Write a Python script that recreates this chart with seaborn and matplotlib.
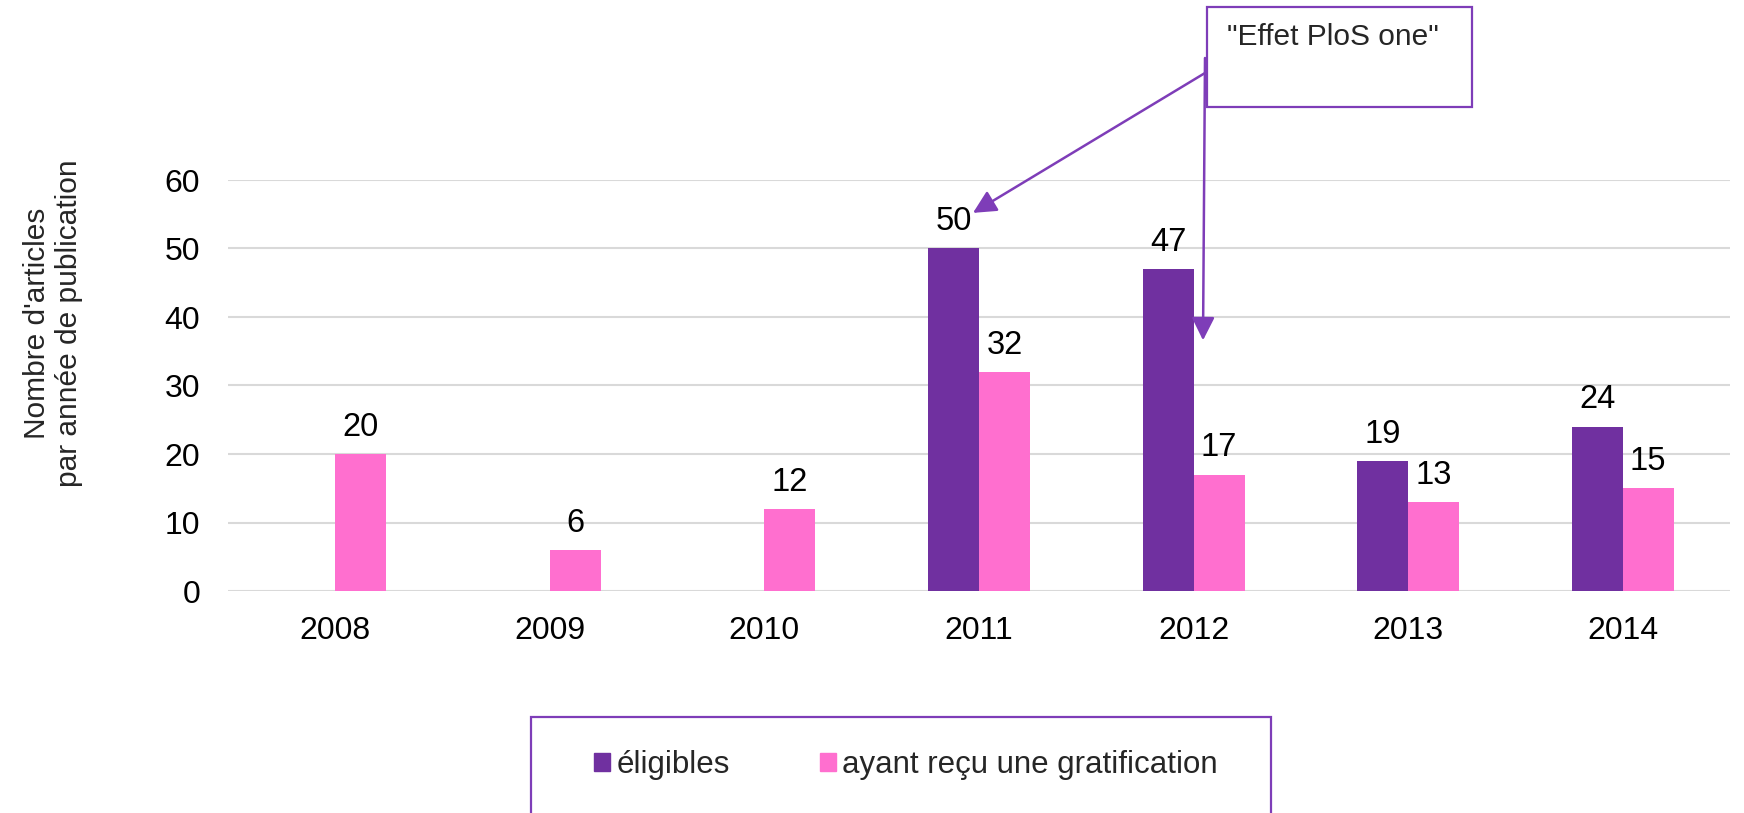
import matplotlib
matplotlib.use("Agg")
import matplotlib.pyplot as plt
from matplotlib.patches import Rectangle
import pandas as pd
import seaborn as sns

years = ["2008", "2009", "2010", "2011", "2012", "2013", "2014"]
eligibles = [0, 0, 0, 50, 47, 19, 24]
gratifies = [20, 6, 12, 32, 17, 13, 15]
series = ["éligibles", "ayant reçu une gratification"]

PURPLE = "#7030A0"
PINK = "#FF6FCF"
BOX = "#7E3DB8"

df = pd.DataFrame({
    "annee": years * 2,
    "n": eligibles + gratifies,
    "serie": [series[0]] * len(years) + [series[1]] * len(years),
})

sns.set_style("white")
plt.rcParams["font.family"] = ["Liberation Sans", "DejaVu Sans"]

fig = plt.figure(figsize=(17.44, 8.13), dpi=100)
W, H = 1744, 813
ax = fig.add_axes([228 / W, 1 - 591 / H, (1730 - 228) / W, (591 - 180) / H])

sns.barplot(data=df, x="annee", y="n", hue="serie", order=years, hue_order=series,
            palette=[PURPLE, PINK], width=0.475, saturation=1, linewidth=0, ax=ax,
            legend=False)

for c in ax.containers:
    ax.bar_label(c, labels=[f"{v:.0f}" if v > 0 else "" for v in c.datavalues],
                 padding=8, fontsize=23.5, color="black")

ax.set_ylim(0, 60)
ax.set_xlim(-0.5, 6.5)
ax.set_yticks(range(0, 61, 10))
ax.yaxis.grid(True, color="#D9D9D9", linewidth=1.5)
ax.set_axisbelow(True)
for s in ax.spines.values():
    s.set_visible(False)
ax.tick_params(axis="both", length=0, labelsize=23, colors="black")
ax.tick_params(axis="y", pad=20)
ax.tick_params(axis="x", pad=18)
ax.set_xlabel("")
ax.set_ylabel("")

fig.text(53 / W, 1 - 323 / H, "Nombre d'articles\npar année de publication",
         rotation=90, ha="center", va="center", multialignment="center",
         fontsize=21.5, linespacing=1.2)

# annotation box
fig.patches.append(Rectangle((1207 / W, 1 - 107 / H), (1472 - 1207) / W, 100 / H,
                             transform=fig.transFigure, fill=False,
                             edgecolor=BOX, linewidth=1.6, zorder=5))
fig.text(1227 / W, 1 - 45 / H, '"Effet PloS one"', fontsize=21.5, va="baseline", ha="left")

arrow = dict(arrowstyle="-|>,head_length=0.7,head_width=0.35", color=BOX,
             lw=1.8, shrinkA=0, shrinkB=0, mutation_scale=20)
ax.annotate("", xy=(2.972, 55.2), xycoords="data", xytext=(1205, H - 73),
            textcoords="figure pixels", arrowprops=arrow, annotation_clip=False)
ax.annotate("", xy=(4.044, 36.6), xycoords="data", xytext=(1205, H - 58),
            textcoords="figure pixels", arrowprops=arrow, annotation_clip=False)

# legend
fig.patches.append(Rectangle((531 / W, -0.01), (1271 - 531) / W, (H - 717) / H + 0.01,
                             transform=fig.transFigure, fill=False,
                             edgecolor=BOX, linewidth=1.6))
handles = [Rectangle((0, 0), 1, 1, color=PURPLE), Rectangle((0, 0), 1, 1, color=PINK)]
fig.legend(handles, series, loc="center", bbox_to_anchor=(906 / W, 1 - 765 / H),
           ncol=2, frameon=False, fontsize=22.5, handlelength=0.5, handleheight=0.5,
           handletextpad=0.2, columnspacing=2.9)

fig.savefig("out.png", dpi=100)
